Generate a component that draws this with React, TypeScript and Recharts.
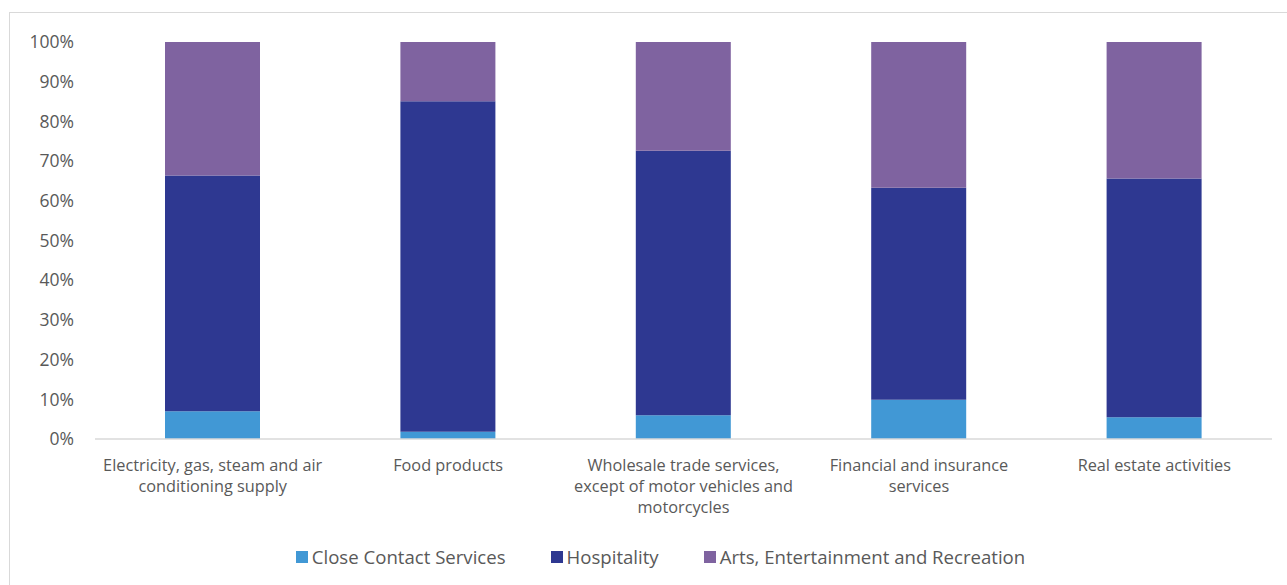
import { BarChart, Bar, XAxis, YAxis, Legend } from "recharts";

const categoryLines = [
  ["Electricity, gas, steam and air", "conditioning supply"],
  ["Food products"],
  ["Wholesale trade services,", "except of motor vehicles and", "motorcycles"],
  ["Financial and insurance", "services"],
  ["Real estate activities"],
];
const categories = categoryLines.map((l) => l.join(" "));

const closeContact = [7.0, 1.8, 6.0, 9.9, 5.5];
const hospitality = [59.4, 83.3, 66.6, 53.4, 60.1];
const arts = [33.6, 14.9, 27.4, 36.7, 34.4];

const yTicks = [0, 10, 20, 30, 40, 50, 60, 70, 80, 90, 100];

const seriesNames = ["Close Contact Services", "Hospitality", "Arts, Entertainment and Recreation"];
const seriesColors = ["#4198D5", "#2E3891", "#7F63A0"];

const data = categories.map((c, i) => ({
  name: c,
  close: closeContact[i],
  hosp: hospitality[i],
  arts: arts[i],
}));

const FONT = "'Open Sans', sans-serif";
const TEXT = "#595959";

function CategoryTick(props: any) {
  const { x, y, index } = props;
  const lines = categoryLines[index] || [];
  return (
    <text x={x} y={y} textAnchor="middle" fill={TEXT} fontSize={16.3} fontFamily={FONT}>
      {lines.map((l, i) => (
        <tspan key={i} x={x} y={y + 24 + i * 21}>
          {l}
        </tspan>
      ))}
    </text>
  );
}

function LegendContent() {
  return (
    <div
      style={{
        display: "flex",
        justifyContent: "center",
        alignItems: "center",
        gap: 45,
        paddingLeft: 34,
        fontFamily: FONT,
        fontSize: 18.6,
        color: TEXT,
      }}
    >
      {seriesNames.map((n, i) => (
        <div key={n} style={{ display: "flex", alignItems: "center" }}>
          <span
            style={{
              display: "inline-block",
              width: 12,
              height: 12,
              background: seriesColors[i],
              marginRight: 4,
            }}
          />
          <span>{n}</span>
        </div>
      ))}
    </div>
  );
}

export default function App() {
  return (
    <div style={{ position: "relative", width: 1287, height: 585, overflow: "hidden", background: "#fff" }}>
      <style>{"body{margin:0;overflow:hidden}"}</style>
      <div
        style={{
          position: "absolute",
          left: 9,
          top: 12,
          width: 1300,
          height: 600,
          border: "1px solid #d9d9d9",
        }}
      />
      <div style={{ position: "absolute", left: 0, top: 0 }}>
        <BarChart
          width={1287}
          height={585}
          data={data}
          margin={{ top: 42, right: 15, bottom: 116, left: 0 }}
          barSize={95}
        >
          <XAxis
            dataKey="name"
            height={30}
            interval={0}
            tickLine={false}
            axisLine={{ stroke: "#d9d9d9", strokeWidth: 1.5 }}
            tick={<CategoryTick />}
          />
          <YAxis
            width={95}
            domain={[0, 100]}
            ticks={yTicks}
            tickFormatter={(v) => `${v}%`}
            axisLine={false}
            tickLine={false}
            tickSize={0}
            tickMargin={21}
            tick={{ fill: TEXT, fontSize: 17.5, fontFamily: FONT }}
          />
          <Legend
            layout="horizontal"
            verticalAlign="middle"
            content={<LegendContent />}
            wrapperStyle={{ top: 544, left: 0, width: 1287 }}
          />
          <Bar dataKey="close" name={seriesNames[0]} stackId="a" fill={seriesColors[0]} isAnimationActive={false} />
          <Bar dataKey="hosp" name={seriesNames[1]} stackId="a" fill={seriesColors[1]} isAnimationActive={false} />
          <Bar dataKey="arts" name={seriesNames[2]} stackId="a" fill={seriesColors[2]} isAnimationActive={false} />
        </BarChart>
      </div>
    </div>
  );
}
